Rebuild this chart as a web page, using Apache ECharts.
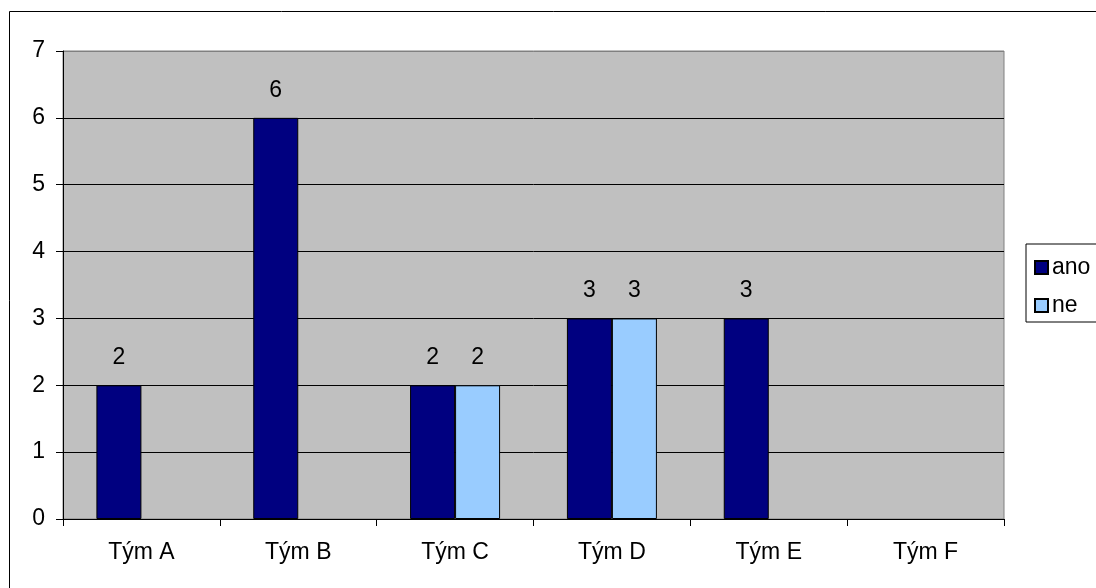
<!DOCTYPE html>
<html>
<head>
<meta charset="utf-8">
<script src="https://cdn.jsdelivr.net/npm/echarts@6/dist/echarts.min.js"></script>
<style>
  html, body { margin: 0; padding: 0; background: #fff; }
  #chart { width: 1096px; height: 588px; }
</style>
</head>
<body>
<div id="chart"></div>
<script>
// Team answers: "ano" (yes) and "ne" (no) counts per team
const categories = ['Tým A', 'Tým B', 'Tým C', 'Tým D', 'Tým E', 'Tým F'];
const anoValues = [2, 6, 2, 3, 3, null];
const neValues = [null, null, 2, 3, null, null];
const seriesNames = ['ano', 'ne'];
const yTicks = [0, 1, 2, 3, 4, 5, 6, 7];

const FONT = '"Liberation Sans", Arial, sans-serif';
const FS = 23;

const chart = echarts.init(document.getElementById('chart'), null, { renderer: 'canvas' });

// grid lines: black for inner values, grey for the top edge of the plot
const splitColors = yTicks.map((v, i) => (i === yTicks.length - 1 ? '#808080' : '#000000'));

const labelCfg = {
  show: true,
  position: 'top',
  distance: 16,
  color: '#000',
  fontSize: FS,
  fontFamily: FONT
};

chart.setOption({
  animation: false,
  backgroundColor: '#ffffff',
  textStyle: { fontFamily: FONT, color: '#000' },
  graphic: [{
    type: 'rect',
    shape: { x: 9.5, y: 11.5, width: 1100, height: 600 },
    style: { fill: null, stroke: '#000', lineWidth: 1 },
    silent: true,
    z: 0
  }],
  grid: {
    left: 63,
    right: 92,
    top: 51,
    bottom: 69,
    show: true,
    backgroundColor: '#C0C0C0',
    borderColor: '#808080',
    borderWidth: 1
  },
  legend: {
    orient: 'vertical',
    left: 1026,
    top: 244,
    data: seriesNames,
    icon: 'rect',
    itemWidth: 13,
    itemHeight: 13,
    itemGap: 15,
    padding: [12, 20, 5, 8],
    borderColor: '#000',
    borderWidth: 1,
    backgroundColor: '#fff',
    textStyle: { fontSize: FS, color: '#000', fontFamily: FONT, padding: [0, 0, 0, -1] }
  },
  xAxis: {
    type: 'category',
    data: categories,
    axisLine: { show: true, lineStyle: { color: '#000', width: 1 } },
    axisTick: { show: true, length: 7, lineStyle: { color: '#000' } },
    axisLabel: { color: '#000', fontSize: FS, fontFamily: FONT, margin: 22 },
    splitLine: { show: false }
  },
  yAxis: {
    type: 'value',
    min: 0,
    max: 7,
    interval: 1,
    axisLine: { show: true, lineStyle: { color: '#000', width: 1 } },
    axisTick: { show: true, length: 7, lineStyle: { color: '#000' } },
    axisLabel: { color: '#000', fontSize: FS, fontFamily: FONT, margin: 18 },
    splitLine: { show: true, lineStyle: { color: splitColors, width: 1 } }
  },
  series: [
    {
      name: seriesNames[0],
      type: 'bar',
      data: anoValues,
      barWidth: 45,
      barGap: '0%',
      itemStyle: { color: '#000080', borderColor: '#000', borderWidth: 1 },
      label: labelCfg
    },
    {
      name: seriesNames[1],
      type: 'bar',
      data: neValues,
      barWidth: 45,
      barGap: '0%',
      itemStyle: { color: '#99CCFF', borderColor: '#000', borderWidth: 1 },
      label: labelCfg
    }
  ]
});
</script>
</body>
</html>
